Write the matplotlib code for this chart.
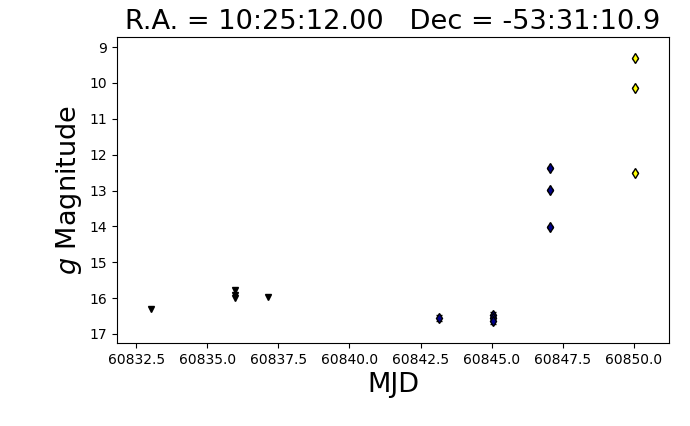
import matplotlib
matplotlib.use("Agg")
import matplotlib.pyplot as plt

# Upper limits (down triangles)
lim_mjd = [60833.03, 60835.97, 60835.97, 60835.97, 60837.12]
lim_mag = [16.31, 15.76, 15.92, 15.99, 15.96]

# Detections (blue)
det_mjd = [60843.15, 60845.05, 60845.05, 60845.05, 60847.06, 60847.06, 60847.06]
det_mag = [16.56, 16.47, 16.56, 16.63, 12.37, 12.99, 14.02]
det_err = [0.09, 0.08, 0.08, 0.09, 0.02, 0.02, 0.02]

# Detections (yellow)
yel_mjd = [60850.03, 60850.03, 60850.03]
yel_mag = [9.31, 10.13, 12.50]
yel_err = [0.02, 0.02, 0.02]

fig = plt.figure(figsize=(6.9, 4.26), dpi=100)
ax = fig.add_axes([0.1696, 0.195, 0.80, 0.718])

ax.errorbar(lim_mjd, lim_mag, fmt='v', color='black', markersize=4, linestyle='none')
ax.errorbar(det_mjd, det_mag, yerr=det_err, fmt='d', markerfacecolor='darkblue',
            markeredgecolor='black', ecolor='black', capsize=2, markersize=5.5,
            linestyle='none')
ax.errorbar(yel_mjd, yel_mag, yerr=yel_err, fmt='d', markerfacecolor='yellow',
            markeredgecolor='black', ecolor='black', capsize=2, markersize=5.5,
            linestyle='none')

ax.set_xlim(60831.83, 60851.23)
ax.set_ylim(17.25, 8.72)
ax.set_xticks([60832.5, 60835.0, 60837.5, 60840.0, 60842.5, 60845.0, 60847.5, 60850.0])
ax.set_xticklabels(['60832.5', '60835.0', '60837.5', '60840.0', '60842.5',
                    '60845.0', '60847.5', '60850.0'])
ax.set_yticks(range(9, 18))

ax.set_title("R.A. = 10:25:12.00   Dec = -53:31:10.9", fontsize=19.6)
ax.set_xlabel("MJD", fontsize=19.5)
ax.set_ylabel("$g$ Magnitude", fontsize=19.5)

fig.savefig("out.png", dpi=100)
